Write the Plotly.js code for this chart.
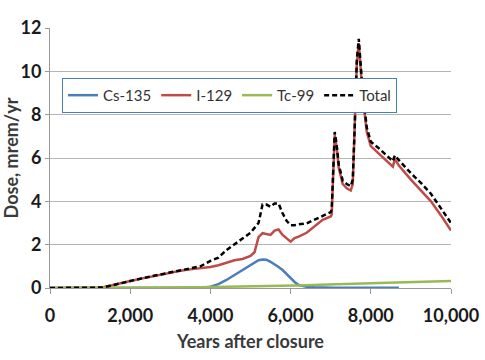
<!DOCTYPE html>
<html>
<head>
<meta charset="utf-8">
<script src="https://cdn.plot.ly/plotly-3.0.1.min.js"></script>
<style>
html,body{margin:0;padding:0;background:#fff;}
#chart{width:485px;height:360px;}
</style>
</head>
<body>
<div id="chart"></div>
<script>
const years = [0,500,1000,1300,1500,1750,2000,2250,2500,2750,3000,3250,3500,3750,4000,4200,4400,4600,4800,5000,5100,5200,5300,5400,5500,5600,5700,5800,5900,6000,6100,6200,6400,6600,6800,7000,7025,7100,7150,7200,7300,7400,7500,7550,7600,7650,7700,7750,7800,7900,8000,8200,8400,8550,8600,8700,9000,9250,9500,9750,10000];

const cs135 = [0,0,0,0,0, 0,0,0,0,0, 0,0,0,0,0.06, 0.18,0.37,0.6,0.83,1.06, 1.18,1.28,1.31,1.3,1.21, 1.1,0.97,0.83,0.63,0.45, 0.28,0.14,0.06,0.03,0.01, 0.01,0.01,0.01,0.01,0.01, 0.01,0.01,0.01,0.01,0.01, 0.01,0.01,0.01,0.01,0.01, 0.01,0.01,0.01,0.01,0.01, 0.01,null,null,null,null, null];

const i129 = [0,0,0,0.02,0.1, 0.22,0.32,0.42,0.52,0.62, 0.72,0.8,0.86,0.9,0.97, 1.05,1.15,1.28,1.34,1.48, 1.65,2.35,2.53,2.5,2.45, 2.65,2.7,2.45,2.28,2.14, 2.3,2.37,2.55,2.85,3.15, 3.3,3.4,7.05,6.5,5.55, 4.8,4.6,4.5,4.8,7.3, 10.3,11.3,10.1,8.8,7.2, 6.55,6.2,5.85,5.6,5.95, 5.65,5.0,4.5,4.0,3.35, 2.65];

const tc99 = [0,0,0,0,0.005, 0.008,0.01,0.012,0.015,0.018, 0.02,0.025,0.03,0.035,0.04, 0.045,0.05,0.05,0.06,0.07, 0.07,0.08,0.08,0.085,0.09, 0.095,0.1,0.1,0.105,0.11, 0.115,0.12,0.125,0.13,0.15, 0.16,0.16,0.17,0.17,0.175, 0.18,0.19,0.2,0.2,0.2, 0.21,0.21,0.21,0.22,0.22, 0.22,0.23,0.24,0.25,0.25, 0.26,0.27,0.27,0.28,0.31, 0.32];

const total = [0,0,0,0.02,0.1, 0.22,0.33,0.43,0.53,0.63, 0.73,0.82,0.9,1.0,1.25, 1.4,1.75,2.0,2.28,2.55, 2.75,3.0,3.85,3.85,3.75, 3.9,3.9,3.45,3.1,2.9, 2.9,2.94,2.98,3.15,3.35, 3.5,3.6,7.2,6.6,5.7, 4.95,4.8,4.7,5.0,7.5, 10.5,11.5,10.3,9.0,7.4, 6.75,6.45,6.1,5.85,6.12, 5.9,5.3,4.85,4.35,3.7, 3.0];

const seriesNames = ['Cs-135','I-129','Tc-99','Total'];
const xTicks = [0,2000,4000,6000,8000,10000];
const xTickText = ['0','2,000','4,000','6,000','8,000','10,000'];
const yTicks = [0,2,4,6,8,10,12];

const traces = [
  {x: years, y: cs135, name: seriesNames[0], mode:'lines', line:{color:'#4a7ebb', width:2.5}},
  {x: years, y: i129, name: seriesNames[1], mode:'lines', line:{color:'#be4b48', width:2.5}},
  {x: years, y: tc99, name: seriesNames[2], mode:'lines', line:{color:'#98b954', width:2.5}},
  {x: years, y: total, name: seriesNames[3], mode:'lines', line:{color:'#000000', width:2.5, dash:'5px,3px'}}
];

const tickFont = {family:'Lato, sans-serif', size:18, color:'#1a1a1a', weight:'bold'};
const titleFont = {family:'Lato, sans-serif', size:18, color:'#3a3a3a', weight:'bold'};

const layout = {
  width:485, height:360,
  margin:{l:50, r:34, t:28, b:72},
  paper_bgcolor:'#fff', plot_bgcolor:'#fff',
  showlegend:true,
  legend:{
    orientation:'h', x:0.03, y:0.808, xanchor:'left', yanchor:'top',
    bgcolor:'#fff', bordercolor:'#4a7ebb', borderwidth:1,
    font:{family:'Lato, sans-serif', size:15, color:'#333'},
    itemwidth:30, tracegroupgap:0
  },
  xaxis:{
    range:[0,10000], tickvals:xTicks, ticktext:xTickText,
    showgrid:false, zeroline:false, showline:true, linecolor:'#999', linewidth:1,
    ticks:'outside', ticklen:5, tickcolor:'#999',
    ticklabelstandoff:6,
    tickfont:tickFont, fixedrange:true,
    title:{text:'Years after closure', font:titleFont, standoff:10}
  },
  yaxis:{
    range:[0,12], tickvals:yTicks,
    showgrid:true, gridcolor:'#b5b5b5', gridwidth:1,
    zeroline:false, showline:true, linecolor:'#999', linewidth:1,
    ticks:'outside', ticklen:4, tickcolor:'#999',
    tickfont:tickFont, fixedrange:true,
    title:{text:'Dose, mrem/yr', font:titleFont, standoff:0}
  }
};

Plotly.newPlot('chart', traces, layout, {displayModeBar:false, staticPlot:true});
</script>
</body>
</html>
